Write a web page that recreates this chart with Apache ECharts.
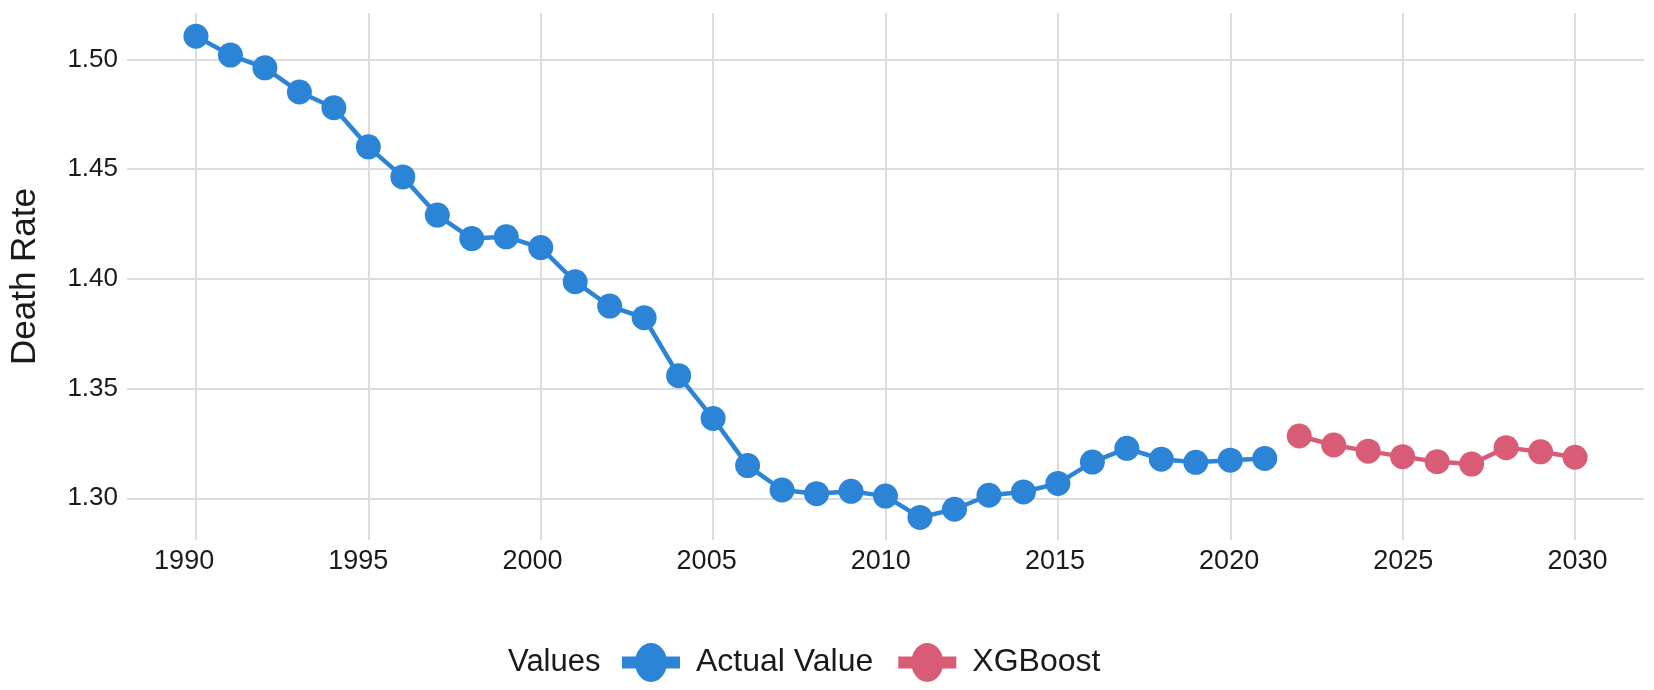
<!DOCTYPE html>
<html>
<head>
<meta charset="utf-8">
<script src="https://cdn.jsdelivr.net/npm/echarts@6/dist/echarts.min.js"></script>
<style>
html,body{margin:0;padding:0;background:#fff;}
#chart{width:1654px;height:690px;}
</style>
</head>
<body>
<div id="chart"></div>
<script>
const actualYears = [1990,1991,1992,1993,1994,1995,1996,1997,1998,1999,2000,2001,2002,2003,2004,2005,2006,2007,2008,2009,2010,2011,2012,2013,2014,2015,2016,2017,2018,2019,2020,2021];
const actualValues = [1.5106,1.5020,1.4962,1.4852,1.4780,1.4602,1.4465,1.4291,1.4184,1.4192,1.4143,1.3987,1.3876,1.3823,1.3559,1.3364,1.3149,1.3038,1.3021,1.3032,1.3010,1.2913,1.2950,1.3014,1.3029,1.3068,1.3165,1.3228,1.3178,1.3164,1.3174,1.3182];
const xgbYears = [2022,2023,2024,2025,2026,2027,2028,2029,2030];
const xgbValues = [1.3284,1.3243,1.3215,1.3190,1.3167,1.3156,1.3231,1.3212,1.3187];
const seriesNames = ['Actual Value','XGBoost'];
const legendTitle = 'Values';
const yAxisTitle = 'Death Rate';

const BLUE = '#2C84D7';
const RED = '#D95C76';
const FONT = '"Liberation Sans", Arial, sans-serif';
const legendIcon = 'path://M0,13.5 L58,13.5 L58,25.5 L0,25.5 Z M13,19.5 A16,19.5 0 1,1 45,19.5 A16,19.5 0 1,1 13,19.5 Z';

const chart = echarts.init(document.getElementById('chart'));
chart.setOption({
  backgroundColor: '#ffffff',
  animation: false,
  textStyle: {fontFamily: FONT},
  grid: {left: 119, right: 10, top: 13, bottom: 150, containLabel: false},
  xAxis: [{
    type: 'value', min: 1988, max: 2032, splitNumber: 8, position: 'bottom',
    axisLine: {show: false}, axisTick: {show: false},
    axisLabel: {show: false},
    splitLine: {show: true, showMinLine: false, showMaxLine: false, lineStyle: {color: '#DCDCDC', width: 2}}
  }, {
    // label-only axis: the reference's year labels sit on a slightly wider spacing than its grid lines
    type: 'value', min: 1988.36, max: 2031.91, splitNumber: 8, position: 'bottom', offset: 0,
    axisLine: {show: false}, axisTick: {show: false},
    axisLabel: {
      fontSize: 27, color: '#1a1a1a', margin: 8, fontFamily: FONT,
      showMinLabel: false, showMaxLabel: false,
      formatter: v => (Math.abs(v % 5) < 1e-6 ? String(Math.round(v)) : '')
    },
    splitLine: {show: false}
  }],
  yAxis: {
    type: 'value', min: 1.281, max: 1.5212, splitNumber: 5,
    name: yAxisTitle, nameLocation: 'middle', nameGap: 84, nameRotate: 90,
    nameTextStyle: {fontSize: 35, color: '#1a1a1a', fontFamily: FONT},
    axisLine: {show: false}, axisTick: {show: false},
    axisLabel: {
      fontSize: 26, color: '#1a1a1a', margin: 9, fontFamily: FONT,
      showMinLabel: false, showMaxLabel: false,
      formatter: v => v.toFixed(2)
    },
    splitLine: {show: true, showMinLine: false, showMaxLine: false, lineStyle: {color: '#DCDCDC', width: 2}}
  },
  legend: {
    left: 622, top: 643, padding: 0,
    itemWidth: 58, itemHeight: 39, itemGap: 25,
    textStyle: {fontSize: 32, color: '#1a1a1a', fontFamily: FONT, padding: [0, 0, 0, 11]},
    data: [
      {name: seriesNames[0], icon: legendIcon, itemStyle: {color: BLUE}},
      {name: seriesNames[1], icon: legendIcon, itemStyle: {color: RED}}
    ]
  },
  graphic: [{
    type: 'text', left: 508, top: 647,
    style: {text: legendTitle, fontSize: 31, fill: '#1a1a1a', fontFamily: FONT}
  }],
  series: [
    {
      name: seriesNames[0], type: 'line', xAxisIndex: 0,
      data: actualYears.map((y, i) => [y, actualValues[i]]),
      symbol: 'circle', symbolSize: 25,
      lineStyle: {color: BLUE, width: 4.5}, itemStyle: {color: BLUE}
    },
    {
      name: seriesNames[1], type: 'line', xAxisIndex: 0,
      data: xgbYears.map((y, i) => [y, xgbValues[i]]),
      symbol: 'circle', symbolSize: 25,
      lineStyle: {color: RED, width: 4.5}, itemStyle: {color: RED}
    }
  ]
});
</script>
</body>
</html>
